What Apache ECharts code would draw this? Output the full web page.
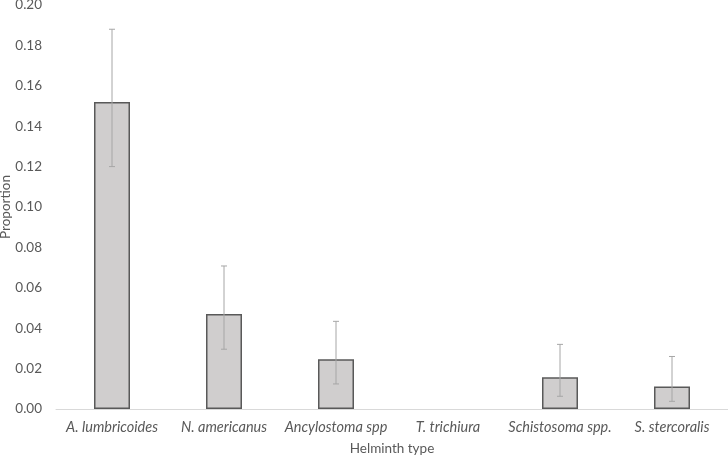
<!DOCTYPE html>
<html>
<head>
<meta charset="utf-8">
<script src="https://cdn.jsdelivr.net/npm/echarts@6/dist/echarts.min.js"></script>
<style>html,body{margin:0;padding:0;background:#fff;}#c{width:728px;height:456px;}</style>
</head>
<body>
<div id="c"></div>
<script>
var categories = ['A. lumbricoides', 'N. americanus', 'Ancylostoma spp', 'T. trichiura', 'Schistosoma spp.', 'S. stercoralis'];
var proportions = [0.152, 0.047, 0.0246, 0, 0.0157, 0.0112];
var errLow = [0.120, 0.0296, 0.0124, 0, 0.0063, 0.0038];
var errHigh = [0.188, 0.0708, 0.0434, 0, 0.032, 0.026];
var yTicks = ['0.00','0.02','0.04','0.06','0.08','0.10','0.12','0.14','0.16','0.18','0.20'];

var errData = categories.map(function (c, i) { return [i, errLow[i], errHigh[i]]; });
var barData = proportions.map(function (v) {
  return v > 0 ? v : { value: v, itemStyle: { borderWidth: 0 } };
});
var font = 'Lato, "Open Sans", sans-serif';
var chart = echarts.init(document.getElementById('c'));
chart.setOption({
  animation: false,
  grid: { left: 56, right: 0, top: 5, bottom: 47, containLabel: false, outerBoundsMode: 'none' },
  xAxis: {
    type: 'category',
    data: categories,
    name: 'Helminth type',
    nameLocation: 'middle',
    nameGap: 33,
    nameMoveOverlap: false,
    nameTextStyle: { color: '#595959', fontSize: 13.5, fontFamily: font },
    axisLine: { lineStyle: { color: '#d9d9d9', width: 1 } },
    axisTick: { show: false },
    axisLabel: { interval: 0, color: '#595959', fontSize: 14.5, fontStyle: 'italic', fontFamily: font, margin: 11 }
  },
  yAxis: {
    type: 'value',
    min: 0, max: 0.2, interval: 0.02,
    name: 'Proportion',
    nameLocation: 'middle',
    nameGap: 43,
    nameMoveOverlap: false,
    nameTextStyle: { color: '#595959', fontSize: 13.5, fontFamily: font },
    splitLine: { show: false },
    axisLine: { show: false },
    axisTick: { show: false },
    axisLabel: { color: '#595959', fontSize: 13.5, fontFamily: font, margin: 14,
      formatter: function (v) { return yTicks[Math.round(v / 0.02)]; } }
  },
  series: [
    {
      type: 'bar',
      data: barData,
      barWidth: 36,
      itemStyle: { color: '#d0cece', borderColor: '#595959', borderWidth: 1.5 }
    },
    {
      type: 'custom',
      data: errData,
      z: 10,
      renderItem: function (params, api) {
        var x = api.value(0);
        var lo = api.coord([x, api.value(1)]);
        var hi = api.coord([x, api.value(2)]);
        if (api.value(2) - api.value(1) <= 0) return null;
        var w = 3;
        var st = { stroke: '#a6a6a6', lineWidth: 1 };
        return {
          type: 'group',
          children: [
            { type: 'line', shape: { x1: lo[0], y1: lo[1], x2: hi[0], y2: hi[1] }, style: st },
            { type: 'line', shape: { x1: lo[0] - w, y1: lo[1], x2: lo[0] + w, y2: lo[1] }, style: st },
            { type: 'line', shape: { x1: hi[0] - w, y1: hi[1], x2: hi[0] + w, y2: hi[1] }, style: st }
          ]
        };
      }
    }
  ]
});
</script>
</body>
</html>
